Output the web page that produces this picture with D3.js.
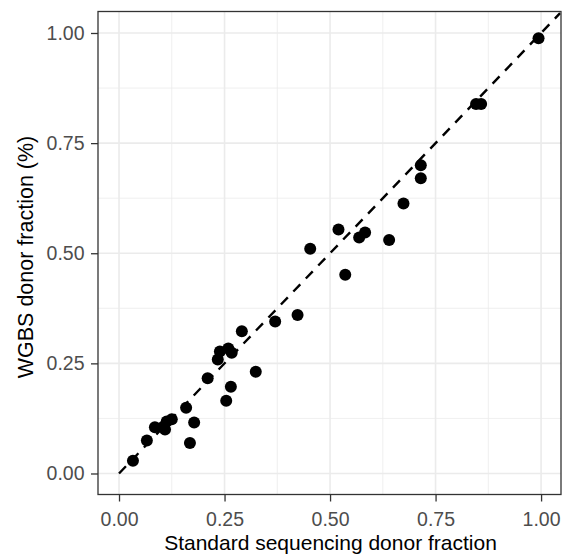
<!DOCTYPE html>
<html>
<head>
<meta charset="utf-8">
<script src="https://cdn.jsdelivr.net/npm/d3@7"></script>
<style>
  html, body { margin: 0; padding: 0; background: #fff; }
  svg { display: block; }
</style>
</head>
<body>
<svg id="chart" width="565" height="558"></svg>
<script>
// Data
const standardFraction = [0.033, 0.066, 0.085, 0.105, 0.109, 0.113, 0.125, 0.159, 0.168, 0.178,
  0.210, 0.234, 0.239, 0.259, 0.267, 0.254, 0.265, 0.291, 0.324, 0.370,
  0.423, 0.453, 0.520, 0.536, 0.569, 0.583, 0.640, 0.674, 0.715, 0.715,
  0.846, 0.858, 0.994];
const wgbsFraction = [0.029, 0.075, 0.105, 0.106, 0.100, 0.118, 0.123, 0.149, 0.069, 0.116,
  0.216, 0.259, 0.277, 0.284, 0.274, 0.165, 0.197, 0.323, 0.231, 0.345,
  0.360, 0.510, 0.554, 0.451, 0.536, 0.547, 0.530, 0.613, 0.700, 0.670,
  0.839, 0.839, 0.988];
const xTicks = [0, 0.25, 0.5, 0.75, 1.0];
const yTicks = [0, 0.25, 0.5, 0.75, 1.0];
const xMinor = [0.125, 0.375, 0.625, 0.875];
const yMinor = [0.125, 0.375, 0.625, 0.875];
const identityLine = [0, 1.045];
const xTitle = "Standard sequencing donor fraction";
const yTitle = "WGBS donor fraction (%)";

const panel = {left: 98, right: 561, top: 11.5, bottom: 494.5};
const x = d3.scaleLinear().domain([-0.0498, 1.0472]).range([panel.left, panel.right]);
const y = d3.scaleLinear().domain([-0.0477, 1.0488]).range([panel.bottom, panel.top]);

const svg = d3.select("#chart");
const font = "'Liberation Sans', Arial, Helvetica, sans-serif";

// grid
const g = svg.append("g");
g.selectAll(".xminor").data(xMinor).join("line")
  .attr("x1", d => x(d)).attr("x2", d => x(d))
  .attr("y1", panel.top).attr("y2", panel.bottom)
  .attr("stroke", "#EBEBEB").attr("stroke-width", 0.8);
g.selectAll(".yminor").data(yMinor).join("line")
  .attr("y1", d => y(d)).attr("y2", d => y(d))
  .attr("x1", panel.left).attr("x2", panel.right)
  .attr("stroke", "#EBEBEB").attr("stroke-width", 0.8);
g.selectAll(".xmajor").data(xTicks).join("line")
  .attr("x1", d => x(d)).attr("x2", d => x(d))
  .attr("y1", panel.top).attr("y2", panel.bottom)
  .attr("stroke", "#EBEBEB").attr("stroke-width", 1.6);
g.selectAll(".ymajor").data(yTicks).join("line")
  .attr("y1", d => y(d)).attr("y2", d => y(d))
  .attr("x1", panel.left).attr("x2", panel.right)
  .attr("stroke", "#EBEBEB").attr("stroke-width", 1.6);

// points
const pts = standardFraction.map((v, i) => ({x: v, y: wgbsFraction[i]}));
svg.append("g").selectAll("circle").data(pts).join("circle")
  .attr("cx", d => x(d.x)).attr("cy", d => y(d.y)).attr("r", 6)
  .attr("fill", "#000");

// dashed identity line
svg.append("line")
  .attr("x1", x(identityLine[0])).attr("y1", y(identityLine[0]))
  .attr("x2", x(identityLine[1])).attr("y2", y(identityLine[1]))
  .attr("stroke", "#000").attr("stroke-width", 2.4)
  .attr("stroke-dasharray", "10,8");

// panel border
svg.append("rect")
  .attr("x", panel.left).attr("y", panel.top)
  .attr("width", panel.right - panel.left).attr("height", panel.bottom - panel.top)
  .attr("fill", "none").attr("stroke", "#333333").attr("stroke-width", 1.3);

// axes
const fmt = d3.format(".2f");
const xAxis = svg.append("g").attr("transform", `translate(0,${panel.bottom})`)
  .call(d3.axisBottom(x).tickValues(xTicks).tickFormat(fmt).tickSize(7).tickPadding(11));
const yAxis = svg.append("g").attr("transform", `translate(${panel.left},0)`)
  .call(d3.axisLeft(y).tickValues(yTicks).tickFormat(fmt).tickSize(7).tickPadding(6.5));
[xAxis, yAxis].forEach(a => {
  a.select(".domain").remove();
  a.selectAll(".tick line").attr("stroke", "#333333").attr("stroke-width", 1.3);
  a.selectAll(".tick text").attr("fill", "#4D4D4D")
    .style("font-family", font).style("font-size", "19.5px");
});

svg.append("text")
  .attr("x", (panel.left + panel.right) / 2 + 1).attr("y", 550)
  .attr("text-anchor", "middle")
  .style("font-family", font).style("font-size", "21px").attr("fill", "#000")
  .text(xTitle);
svg.append("text")
  .attr("transform", `translate(33,${(panel.top + panel.bottom) / 2 + 4}) rotate(-90)`)
  .attr("text-anchor", "middle")
  .style("font-family", font).style("font-size", "21.5px").attr("fill", "#000")
  .text(yTitle);
</script>
</body>
</html>
